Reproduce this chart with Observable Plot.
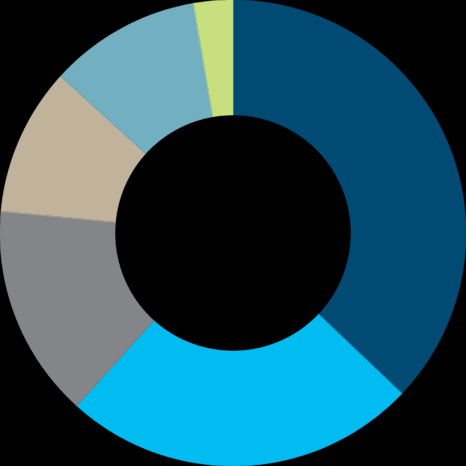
<!DOCTYPE html>
<html>
<head>
<meta charset="utf-8">
<script src="https://cdn.jsdelivr.net/npm/d3@7"></script>
<script src="https://cdn.jsdelivr.net/npm/@observablehq/plot@0.6"></script>
<style>
  html, body { margin: 0; padding: 0; background: #000; }
  #chart { width: 466px; height: 466px; }
</style>
</head>
<body>
<div id="chart"></div>
<script>
// Data (clockwise from 12 o'clock)
const categories = ["A", "B", "C", "D", "E", "F"];
const values = [37.1, 24.6, 14.8, 10.25, 10.55, 2.7];
const colors = ["#004a74", "#00bcf1", "#838588", "#c0b29b", "#72afc0", "#c8df80"];

const innerRatio = 118 / 233;

// Build arc samples for each slice from cumulative shares
const total = d3.sum(values);
const rows = [];
let acc = 0;
categories.forEach((c, i) => {
  const a0 = (acc / total) * 2 * Math.PI;
  acc += values[i];
  const a1 = (acc / total) * 2 * Math.PI;
  const n = Math.max(2, Math.ceil((a1 - a0) / (Math.PI / 360)));
  for (let k = 0; k <= n; k++) {
    const a = a0 + (a1 - a0) * k / n;
    rows.push({
      cat: c,
      xi: innerRatio * Math.sin(a), yi: innerRatio * Math.cos(a),
      xo: Math.sin(a), yo: Math.cos(a)
    });
  }
});

const chart = Plot.plot({
  width: 466,
  height: 466,
  margin: 0,
  style: { background: "#000" },
  x: { domain: [-1, 1], axis: null },
  y: { domain: [-1, 1], axis: null },
  color: { domain: categories, range: colors },
  marks: [
    Plot.area(rows, {
      x1: "xi", y1: "yi", x2: "xo", y2: "yo",
      z: "cat", fill: "cat", stroke: "cat", strokeWidth: 0.6,
      strokeLinejoin: "round", curve: "linear"
    })
  ]
});
document.getElementById("chart").appendChild(chart);
</script>
</body>
</html>
